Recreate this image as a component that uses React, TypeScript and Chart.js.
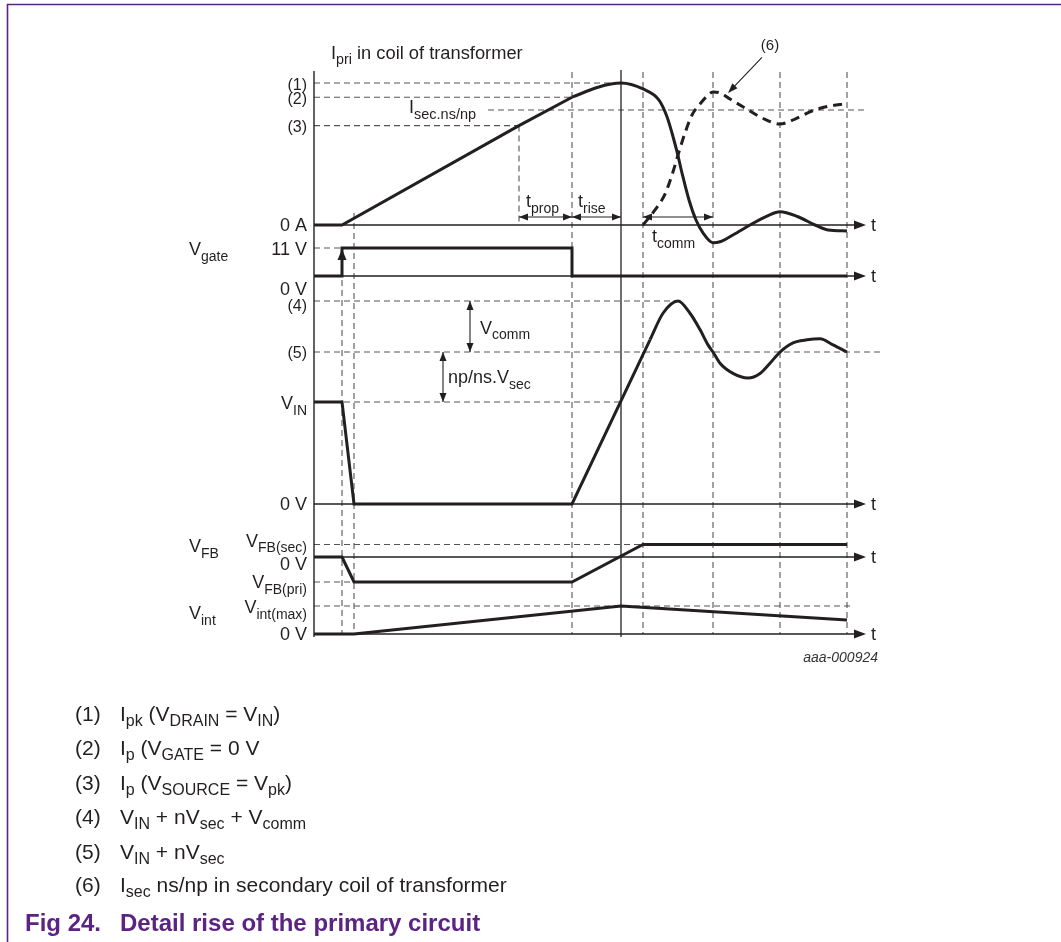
import React, { useEffect, useRef } from "react";
import { Chart, registerables } from "chart.js";

Chart.register(...registerables);

// ---------------- DATA ----------------
// time: arbitrary units counted from the left axis
const tGateOn = 28;
const tDrainLow = 40;
const tProp = 205;
const tGateOff = 258;
const tPeak = 307;
const tCommStart = 329;
const tCommEnd = 399;
const ringMarks = [466, 533];

// Ipri (percent of Ipk)
const ipriRampT = [0, 28, 205, 258];
const ipriRampPct = [0, 0, 70, 90];
const ipriOffT = [258, 284, 297, 307, 329, 345, 353, 358, 363, 368, 375, 382, 389, 399, 406, 419, 436, 453, 466, 484, 501, 514, 533];
const ipriOffPct = [90, 97, 99.3, 100, 95.8, 88, 76.3, 64.8, 51.6, 36.6, 17.6, 3.5, -5.6, -12.5, -11.8, -7, 0, 6.3, 9.4, 5.8, 0, -3.5, -4.2];

// Isec.ns/np (percent of Ipk), dashed
const isecT = [329, 341, 351, 358, 364, 371, 378, 386, 393, 399, 406, 416, 431, 448, 466, 481, 498, 516, 531];
const isecPct = [0, 10.6, 21.8, 35.2, 49.3, 64.8, 77.5, 85.2, 90.8, 93.7, 93, 88.7, 82.4, 75.4, 71.1, 74.6, 80.3, 83.8, 85.2];

// Vgate (V)
const gateT = [0, 28, 28, 258, 258, 533];
const gateV = [0, 0, 11, 11, 0, 0];

// Drain voltage (percent of VIN)
const drainT = [0, 28, 40, 258, 336];
const drainPct = [100, 100, 0, 0, 161];
const drainRingT = [336, 349, 364, 376, 386, 394, 399, 406, 419, 434, 446, 456, 466, 479, 493, 506, 519, 533];
const drainRingPct = [161, 187, 199, 187, 171, 156, 149, 138, 128, 123.5, 128, 138, 149, 158, 161, 162, 156, 149];

// VFB (relative units)
const vfbT = [0, 28, 40, 258, 329, 533];
const vfbV = [0, 0, -1, -1, 0.5, 0.5];

// Vint (percent of Vint(max))
const vintT = [0, 40, 307, 533];
const vintPct = [0, 0, 100, 50];

// reference levels
const ipriLevels = [100, 90, 70]; // (1), (2), (3)
const isecLevel = 81;
const gateHigh = 11;
const drainLevels = [199, 149, 100]; // (4), (5), VIN
const vfbSec = 0.5;
const vfbPri = -1;
const vintMax = 100;

const notes = [
  ["(1)", "I_{pk} (V_{DRAIN} = V_{IN})"],
  ["(2)", "I_{p} (V_{GATE} = 0 V"],
  ["(3)", "I_{p} (V_{SOURCE} = V_{pk})"],
  ["(4)", "V_{IN} + nV_{sec} + V_{comm}"],
  ["(5)", "V_{IN} + nV_{sec}"],
  ["(6)", "I_{sec} ns/np in secondary coil of transformer"],
];

// ---------------- LAYOUT ----------------
const W = 1061;
const H = 942;
const X_ZERO = 314;
const X_PX = 1;
const PANELS: Record<string, [number, number]> = {
  yI: [225, 1.42],
  yG: [276, 28 / 11],
  yD: [504, 1.02],
  yF: [557, 25],
  yN: [634, 0.28],
};
const FONT = '"Liberation Sans", Arial, Helvetica, sans-serif';
const INK = "#231f20";
const GRID = "#555555";
const PURPLE = "#5b2382";
const F = 18;
const S = 14;
const FN = 16;

function parseRich(s: string): [string, boolean][] {
  const out: [string, boolean][] = [];
  const re = /_\{([^}]*)\}/g;
  let last = 0;
  let m: RegExpExecArray | null;
  while ((m = re.exec(s))) {
    if (m.index > last) out.push([s.slice(last, m.index), false]);
    out.push([m[1], true]);
    last = re.lastIndex;
  }
  if (last < s.length) out.push([s.slice(last), false]);
  return out;
}

function drawRich(ctx: CanvasRenderingContext2D, s: string, x: number, yc: number, align: string, f = F, sub = S, style = "") {
  const parts = parseRich(s);
  const mainFont = `${style}${f}px ${FONT}`;
  const subFont = `${style}${sub}px ${FONT}`;
  let total = 0;
  const widths = parts.map(([t, isSub]) => {
    ctx.font = isSub ? subFont : mainFont;
    const w = ctx.measureText(t).width;
    total += w;
    return w;
  });
  let cx = align === "left" ? x : align === "right" ? x - total : x - total / 2;
  const base = yc + 0.36 * f;
  ctx.textAlign = "left";
  ctx.textBaseline = "alphabetic";
  parts.forEach(([t, isSub], i) => {
    ctx.font = isSub ? subFont : mainFont;
    ctx.fillText(t, cx, isSub ? base + 0.28 * f : base);
    cx += widths[i];
  });
}

function seg(ctx: CanvasRenderingContext2D, x1: number, y1: number, x2: number, y2: number, w: number, color: string, dash: number[] = []) {
  ctx.save();
  ctx.beginPath();
  ctx.setLineDash(dash);
  ctx.lineWidth = w;
  ctx.strokeStyle = color;
  ctx.moveTo(x1, y1);
  ctx.lineTo(x2, y2);
  ctx.stroke();
  ctx.restore();
}

function head(ctx: CanvasRenderingContext2D, x: number, y: number, ang: number, len = 9, half = 3.5, color = INK) {
  const c = Math.cos(ang), s = Math.sin(ang);
  ctx.save();
  ctx.fillStyle = color;
  ctx.beginPath();
  ctx.moveTo(x, y);
  ctx.lineTo(x - len * c + half * s, y - len * s - half * c);
  ctx.lineTo(x - len * c - half * s, y - len * s + half * c);
  ctx.closePath();
  ctx.fill();
  ctx.restore();
}

function dblArrow(ctx: CanvasRenderingContext2D, x1: number, y1: number, x2: number, y2: number) {
  seg(ctx, x1, y1, x2, y2, 1.1, INK);
  const a = Math.atan2(y2 - y1, x2 - x1);
  head(ctx, x2, y2, a);
  head(ctx, x1, y1, a + Math.PI);
}

const decor = {
  id: "decor",
  beforeDatasetsDraw(chart: any) {
    const ctx: CanvasRenderingContext2D = chart.ctx;
    const sc = chart.scales;
    const X = (t: number) => sc.x.getPixelForValue(t);
    const Y = (id: string, v: number) => sc[id].getPixelForValue(v);
    const dash = [6, 4];
    const top = 72;
    const bottom = Y("yN", 0);

    // page frame
    seg(ctx, 7, 4.5, W, 4.5, 1.6, PURPLE);
    seg(ctx, 7.5, 4, 7.5, H, 1.6, PURPLE);

    // horizontal reference levels
    seg(ctx, X(0), Y("yI", ipriLevels[0]), X(tPeak), Y("yI", ipriLevels[0]), 1.1, GRID, dash);
    seg(ctx, X(0), Y("yI", ipriLevels[1]), X(tGateOff), Y("yI", ipriLevels[1]), 1.1, GRID, dash);
    seg(ctx, X(0), Y("yI", ipriLevels[2]), X(tProp), Y("yI", ipriLevels[2]), 1.1, GRID, dash);
    seg(ctx, X(174), Y("yI", isecLevel), X(553), Y("yI", isecLevel), 1.1, GRID, dash);
    seg(ctx, X(0), Y("yG", gateHigh), X(tGateOn), Y("yG", gateHigh), 1.1, GRID, dash);
    seg(ctx, X(0), Y("yD", drainLevels[0]), X(364), Y("yD", drainLevels[0]), 1.1, GRID, dash);
    seg(ctx, X(0), Y("yD", drainLevels[1]), X(567), Y("yD", drainLevels[1]), 1.1, GRID, dash);
    seg(ctx, X(0), Y("yD", drainLevels[2]), X(tPeak), Y("yD", drainLevels[2]), 1.1, GRID, dash);
    seg(ctx, X(0), Y("yF", vfbSec), X(tCommStart), Y("yF", vfbSec), 1.1, GRID, dash);
    seg(ctx, X(0), Y("yF", vfbPri), X(tDrainLow), Y("yF", vfbPri), 1.1, GRID, dash);
    seg(ctx, X(0), Y("yN", vintMax), X(536), Y("yN", vintMax), 1.1, GRID, dash);

    // vertical event markers
    seg(ctx, X(tGateOn), Y("yG", 0) + 4, X(tGateOn), bottom, 1.1, GRID, dash);
    seg(ctx, X(tDrainLow), Y("yI", 0) - 12, X(tDrainLow), bottom, 1.1, GRID, dash);
    seg(ctx, X(tProp), Y("yI", ipriLevels[2]), X(tProp), Y("yI", 0), 1.1, GRID, dash);
    [tGateOff, tCommStart, tCommEnd, ...ringMarks].forEach((t) => seg(ctx, X(t), top, X(t), bottom, 1.1, GRID, dash));

    // solid verticals
    seg(ctx, X(0), top - 1, X(0), bottom + 3, 1.4, INK);
    seg(ctx, X(tPeak), top - 2, X(tPeak), bottom + 3, 1.3, INK);

    // time axes with arrows
    const tArrow = 552;
    ctx.fillStyle = INK;
    Object.keys(PANELS).forEach((id) => {
      const y = Y(id, 0);
      seg(ctx, X(0), y, X(tArrow) - 6, y, 1.3, INK);
      head(ctx, X(tArrow), y, 0, 12, 4.5);
      drawRich(ctx, "t", X(tArrow) + 5, y, "left");
    });
  },
  afterDatasetsDraw(chart: any) {
    const ctx: CanvasRenderingContext2D = chart.ctx;
    const sc = chart.scales;
    const X = (t: number) => sc.x.getPixelForValue(t);
    const Y = (id: string, v: number) => sc[id].getPixelForValue(v);
    ctx.save();
    ctx.fillStyle = INK;

    // gate rising-edge arrow
    head(ctx, X(tGateOn), Y("yG", gateHigh) + 1, -Math.PI / 2, 11, 4.5);

    // timing arrows
    const ya = Y("yI", 0) - 8;
    dblArrow(ctx, X(tProp), ya, X(tGateOff), ya);
    dblArrow(ctx, X(tGateOff), ya, X(tPeak), ya);
    dblArrow(ctx, X(tCommStart), ya, X(tCommEnd), ya);
    dblArrow(ctx, X(156), Y("yD", drainLevels[0]), X(156), Y("yD", drainLevels[1]));
    dblArrow(ctx, X(129), Y("yD", drainLevels[1]), X(129), Y("yD", drainLevels[2]));

    // (6) pointer
    seg(ctx, X(448), Y("yI", 118), X(416), Y("yI", 94.5), 1.1, INK);
    head(ctx, X(414), Y("yI", 93), Math.atan2(Y("yI", 93) - Y("yI", 118), X(414) - X(448)), 10, 3.5);

    ctx.fillStyle = INK;
    // titles / annotations
    drawRich(ctx, "I_{pri} in coil of transformer", 331, 52, "left", 18.3, 14.3);
    drawRich(ctx, "I_{sec.ns/np}", 409, Y("yI", isecLevel) - 3, "left", 18, 14.5);
    drawRich(ctx, "t_{prop}", 526, Y("yI", 0) - 24, "left");
    drawRich(ctx, "t_{rise}", 578, Y("yI", 0) - 24, "left");
    drawRich(ctx, "t_{comm}", 652, Y("yI", 0) + 11, "left");
    drawRich(ctx, "V_{comm}", 480, (Y("yD", drainLevels[0]) + Y("yD", drainLevels[1])) / 2 + 1, "left");
    drawRich(ctx, "np/ns.V_{sec}", 448, (Y("yD", drainLevels[1]) + Y("yD", drainLevels[2])) / 2, "left");
    drawRich(ctx, "(6)", 770, 45, "center", 15, 12);

    // left level labels
    const lx = X(0) - 7;
    drawRich(ctx, "(1)", lx, Y("yI", ipriLevels[0]) + 1, "right", FN, S);
    drawRich(ctx, "(2)", lx, Y("yI", ipriLevels[1]) + 1, "right", FN, S);
    drawRich(ctx, "(3)", lx, Y("yI", ipriLevels[2]) + 1, "right", FN, S);
    drawRich(ctx, "0 A", lx, Y("yI", 0), "right");
    drawRich(ctx, "11 V", lx, Y("yG", gateHigh) + 1, "right");
    drawRich(ctx, "0 V", lx, Y("yG", 0) + 13, "right");
    drawRich(ctx, "(4)", lx, Y("yD", drainLevels[0]) + 4, "right", FN, S);
    drawRich(ctx, "(5)", lx, Y("yD", drainLevels[1]), "right", FN, S);
    drawRich(ctx, "V_{IN}", lx, Y("yD", drainLevels[2]) + 1, "right");
    drawRich(ctx, "0 V", lx, Y("yD", 0), "right");
    drawRich(ctx, "V_{FB(sec)}", lx, Y("yF", vfbSec) - 4, "right");
    drawRich(ctx, "0 V", lx, Y("yF", 0) + 7, "right");
    drawRich(ctx, "V_{FB(pri)}", lx, Y("yF", vfbPri), "right");
    drawRich(ctx, "V_{int(max)}", lx, Y("yN", vintMax) + 1, "right");
    drawRich(ctx, "0 V", lx, Y("yN", 0), "right");

    drawRich(ctx, "V_{gate}", 189, Y("yG", gateHigh) + 1, "left");
    drawRich(ctx, "V_{FB}", 189, Y("yF", 0) - 11, "left");
    drawRich(ctx, "V_{int}", 189, Y("yN", 0) - 21, "left");

    ctx.fillStyle = "#333";
    drawRich(ctx, "aaa-000924", 878, 657, "right", 14, 12, "italic ");
    ctx.restore();
  },
};

function RichHtml({ s, sub }: { s: string; sub: number }) {
  return (
    <>
      {parseRich(s).map(([t, isSub], i) =>
        isSub ? (
          <span key={i} style={{ fontSize: sub, position: "relative", top: 5 }}>{t}</span>
        ) : (
          <span key={i}>{t}</span>
        )
      )}
    </>
  );
}

const pts = (xs: number[], ys: number[]) => xs.map((x, i) => ({ x, y: ys[i] }));

export default function App() {
  const ref = useRef<HTMLCanvasElement | null>(null);

  useEffect(() => {
    if (!ref.current) return;
    const base = {
      showLine: true,
      pointRadius: 0,
      borderColor: INK,
      borderWidth: 3,
      fill: false,
      tension: 0,
      borderJoinStyle: "miter" as const,
    };
    const yScales: Record<string, any> = {};
    Object.entries(PANELS).forEach(([id, [z, k]]) => {
      yScales[id] = { type: "linear", display: false, min: (z - H) / k, max: z / k };
    });
    const chart = new Chart(ref.current, {
      type: "line",
      data: {
        datasets: [
          { ...base, label: "Ipri ramp", yAxisID: "yI", data: pts(ipriRampT, ipriRampPct) },
          { ...base, label: "Ipri turn-off", yAxisID: "yI", cubicInterpolationMode: "monotone", data: pts(ipriOffT, ipriOffPct) },
          { ...base, label: "Isec ns/np", yAxisID: "yI", cubicInterpolationMode: "monotone", borderDash: [9, 6], data: pts(isecT, isecPct) },
          { ...base, label: "Vgate", yAxisID: "yG", data: pts(gateT, gateV) },
          { ...base, label: "Vdrain", yAxisID: "yD", data: pts(drainT, drainPct) },
          { ...base, label: "Vdrain ringing", yAxisID: "yD", cubicInterpolationMode: "monotone", data: pts(drainRingT, drainRingPct) },
          { ...base, label: "VFB", yAxisID: "yF", data: pts(vfbT, vfbV) },
          { ...base, label: "Vint", yAxisID: "yN", data: pts(vintT, vintPct) },
        ] as any,
      },
      options: {
        animation: false,
        responsive: false,
        devicePixelRatio: 1,
        events: [],
        layout: { padding: 0 },
        plugins: { legend: { display: false }, tooltip: { enabled: false }, title: { display: false } },
        scales: {
          x: { type: "linear", display: false, min: -X_ZERO / X_PX, max: (W - X_ZERO) / X_PX },
          ...yScales,
        },
      } as any,
      plugins: [decor],
    });
    return () => chart.destroy();
  }, []);

  const noteFont = 21;
  const noteCenters = [713, 747, 782, 816, 851, 884];
  const capFont = 24;
  return (
    <div style={{ position: "absolute", left: 0, top: 0, width: W, height: H, background: "#fff", fontFamily: FONT, color: INK }}>
      <canvas ref={ref} width={W} height={H} style={{ position: "absolute", left: 0, top: 0 }} />
      {notes.map(([n, txt], i) => (
        <React.Fragment key={n}>
          <div style={{ position: "absolute", left: 75, top: noteCenters[i] - noteFont / 2, fontSize: noteFont, lineHeight: `${noteFont}px`, whiteSpace: "nowrap" }}>{n}</div>
          <div style={{ position: "absolute", left: 120, top: noteCenters[i] - noteFont / 2, fontSize: noteFont, lineHeight: `${noteFont}px`, whiteSpace: "nowrap" }}>
            <RichHtml s={txt} sub={16} />
          </div>
        </React.Fragment>
      ))}
      <div style={{ position: "absolute", left: 25, top: 923 - capFont / 2, fontSize: capFont, lineHeight: `${capFont}px`, fontWeight: "bold", color: PURPLE, whiteSpace: "nowrap" }}>Fig 24.</div>
      <div style={{ position: "absolute", left: 120, top: 923 - capFont / 2, fontSize: capFont, lineHeight: `${capFont}px`, fontWeight: "bold", color: PURPLE, whiteSpace: "nowrap" }}>Detail rise of the primary circuit</div>
    </div>
  );
}
